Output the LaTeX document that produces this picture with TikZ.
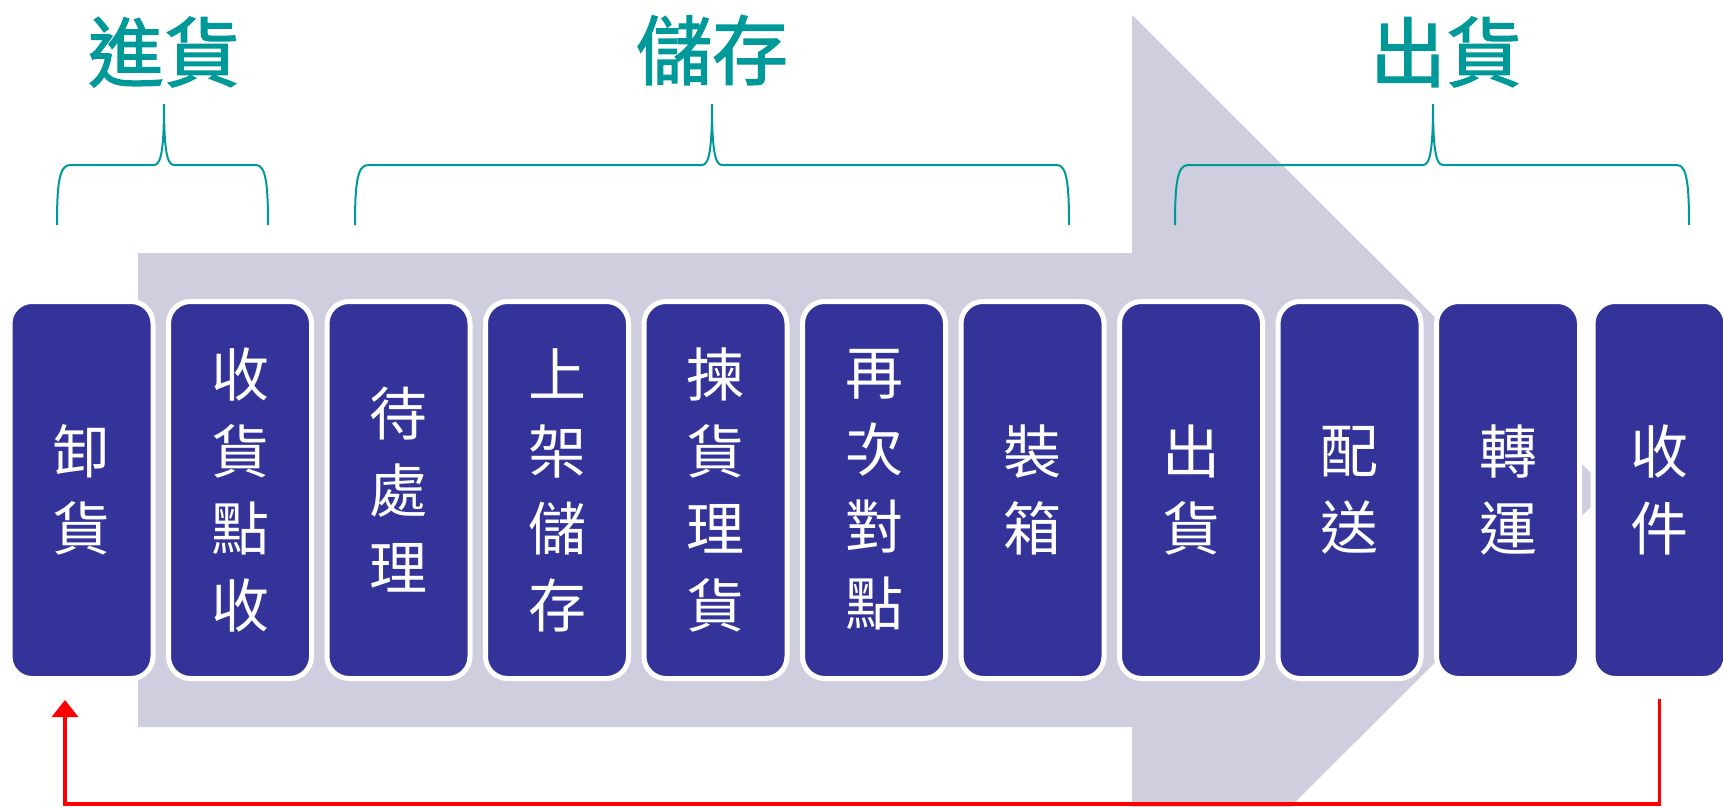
\documentclass[tikz,border=0pt]{standalone}
\usepackage{fontspec}
\newfontfamily\cjk{Noto Sans CJK TC}
\newfontfamily\cjkhead[FakeBold=1.6]{Noto Sans CJK TC}
\usetikzlibrary{arrows.meta,calc}
\definecolor{boxblue}{RGB}{51,51,153}
\definecolor{teal}{RGB}{0,153,153}
\definecolor{arrowgray}{RGB}{206,206,222}
\tikzset{
  stepbox/.style={draw=white, line width=5pt, fill=boxblue, rounded corners=22pt,
    minimum width=143pt, minimum height=377pt, outer sep=0pt, inner sep=0pt,
    text=white, align=center, font=\cjk\fontsize{58pt}{77pt}\selectfont},
  header/.style={text=teal, font=\cjkhead\fontsize{76pt}{80pt}\selectfont, inner sep=0pt},
  bracepath/.style={draw=teal, line width=2pt},
  loopback/.style={draw=red, line width=3.5pt, -{Triangle[width=26pt,length=17pt]}}
}
\begin{document}
\begin{tikzpicture}[x=1pt,y=-1pt]
\clip (0,0) rectangle (1723,806);
% big background arrow
\fill[arrowgray] (138,253) -- (1132,253) -- (1132,15) -- (1608,490) -- (1132,965) -- (1132,727) -- (138,727) -- cycle;
% headers
\node[header] (h1) at (164,52) {進貨};
\node[header] (h2) at (712,50) {儲存};
\node[header] (h3) at (1446,52) {出貨};
% braces
\draw[bracepath] (57,225) .. controls (57,185) and (59,165) .. (70,165) -- (154,165) .. controls (161,165) and (164,150) .. (164,104) .. controls (164,150) and (167,165) .. (174,165) -- (256,165) .. controls (266,165) and (268,185) .. (268,225);
\draw[bracepath] (355,225) .. controls (355,185) and (357,165) .. (368,165) -- (702,165) .. controls (709,165) and (712,150) .. (712,104) .. controls (712,150) and (715,165) .. (722,165) -- (1057,165) .. controls (1067,165) and (1069,185) .. (1069,225);
\draw[bracepath] (1175,225) .. controls (1175,185) and (1177,165) .. (1188,165) -- (1423,165) .. controls (1430,165) and (1433,150) .. (1433,104) .. controls (1433,150) and (1436,165) .. (1443,165) -- (1677,165) .. controls (1687,165) and (1689,185) .. (1689,225);
% boxes
\node[stepbox] (b1) at (81.5,490) {卸\\貨};
\node[stepbox] (b2) at (240,490) {收\\貨\\點\\收};
\node[stepbox] (b3) at (398.5,490) {待\\處\\理};
\node[stepbox] (b4) at (557,490) {上\\架\\儲\\存};
\node[stepbox] (b5) at (715.5,490) {揀\\貨\\理\\貨};
\node[stepbox] (b6) at (874,490) {再\\次\\對\\點};
\node[stepbox] (b7) at (1032.5,490) {裝\\箱};
\node[stepbox] (b8) at (1191,490) {出\\貨};
\node[stepbox] (b9) at (1349.5,490) {配\\送};
\node[stepbox] (b10) at (1508,490) {轉\\運};
\node[stepbox, minimum width=133pt] (b11) at (1659.5,490) {收\\件};
% return arrow
\coordinate (rs) at ([yshift=-20pt]b11.south);
\coordinate (re) at ([xshift=-16.5pt,yshift=-21.5pt]b1.south);
\coordinate (rb) at (0,804);
\draw[loopback] (rs) -- (rs |- rb) -- (re |- rb) -- (re);
\end{tikzpicture}
\end{document}
